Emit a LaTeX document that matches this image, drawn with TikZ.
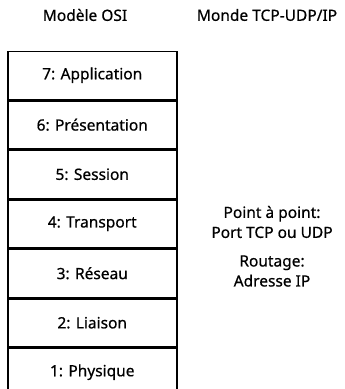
\documentclass[tikz,border=0pt]{standalone}
\usepackage{fontspec}
\setmainfont[FakeBold=0.6]{Noto Sans}
\begin{document}
\begin{tikzpicture}[x=1pt,y=1pt,
  layer/.style={draw,line width=1.5pt,minimum width=169pt,minimum height=48pt,inner sep=0pt,anchor=north west,font=\fontsize{15.5}{18}\selectfont},
  lbl/.style={font=\fontsize{15.5}{18}\selectfont,align=center,inner sep=0pt}]
\useasboundingbox (0,0) rectangle (345,-389);
\node[lbl] (t1) at (85,-15) {Modèle OSI};
\node[lbl] (t2) at (267,-15) {Monde TCP-UDP/IP};
\node[layer] (l7) at (7,-50.5) {7: Application};
\node[layer] (l6) at (l7.south west) {6: Présentation};
\node[layer] (l5) at (l6.south west) {5: Session};
\node[layer] (l4) at (l5.south west) {4: Transport};
\node[layer] (l3) at (l4.south west) {3: Réseau};
\node[layer] (l2) at (l3.south west) {2: Liaison};
\node[layer] (l1) at (l2.south west) {1: Physique};
\node[lbl,font=\fontsize{15.5}{20}\selectfont] (p4) at (272,-222) {Point à point:\\Port TCP ou UDP};
\node[lbl,font=\fontsize{15.5}{20}\selectfont] (p3) at (272,-271) {Routage:\\Adresse IP};
\end{tikzpicture}
\end{document}
